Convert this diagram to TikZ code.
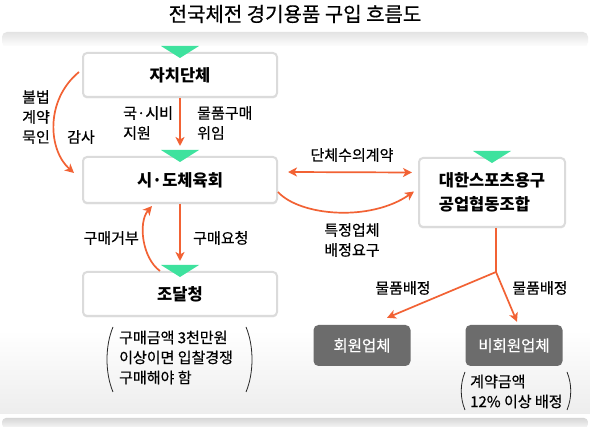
\documentclass[tikz,border=0pt]{standalone}
\usepackage{fontspec}
\setmainfont{Noto Sans CJK KR}
\newfontfamily\medf{Noto Sans CJK KR}[FakeBold=0.5]
\usetikzlibrary{arrows.meta,shadows,calc}
\definecolor{orng}{RGB}{242,98,52}
\definecolor{mint}{RGB}{62,226,158}
\definecolor{dgray}{RGB}{108,108,108}
\newcommand{\gtri}[1]{\fill[mint] ($(#1.north)+(-19,-6)$) -- ($(#1.north)+(19,-6)$) -- ($(#1.north)+(0,6)$) -- cycle;}
\begin{document}
\begin{tikzpicture}[x=1pt,y=-1pt,
  conn/.style={draw=orng, line width=1.7pt},
  arr/.style={conn, -{Stealth[length=9pt,width=9pt,inset=2.5pt]}},
  darr/.style={conn, {Stealth[length=9pt,width=9pt,inset=2.5pt]}-{Stealth[length=9pt,width=9pt,inset=2.5pt]}},
  wbox/.style={draw=gray!28, line width=2pt, fill=white, rounded corners=4pt,
    minimum width=194pt, minimum height=44pt, inner sep=0pt,
    font=\fontsize{16.5}{24}\selectfont\bfseries,
    drop shadow={opacity=0.18, shadow xshift=0pt, shadow yshift=-1.5pt}},
  dbox/.style={fill=dgray, rounded corners=5pt, minimum width=97pt, minimum height=41pt,
    inner sep=0pt, text=white, font=\medf\fontsize{15.5}{18}\selectfont},
  lbl/.style={font=\medf\fontsize{15}{20}\selectfont, inner sep=0pt, align=left},
  paren/.style={draw=black!85, line width=0.8pt},
]
\useasboundingbox (0,0) rectangle (590,427);
% background panel
\fill[white] (0,0) rectangle (590,427);
\shade[top color=gray!22, bottom color=white, rounded corners=5pt] (2,32) rectangle (588,47);
\fill[white] (0,46) rectangle (590,330);
\shade[top color=white, bottom color=gray!14] (0,330) rectangle (590,414);
\shade[top color=gray!32, bottom color=gray!6, rounded corners=4pt] (2,418) rectangle (588,428);

% title
\node (title) at (295,14) {\medf\fontsize{20}{22}\selectfont 전국체전 경기용품 구입 흐름도};

% boxes
\node[wbox] (jachi) at (180,75) {자치단체};
\node[wbox, minimum height=46pt] (sido) at (180,180) {시·도체육회};
\node[wbox] (jodal) at (180,294) {조달청};
\node[wbox, minimum width=146pt, minimum height=69pt, align=left] (union) at (492,192.5) {대한스포츠용구\\공업협동조합};
\node[dbox] (member) at (362,345.5) {회원업체};
\node[dbox] (nonmember) at (514,345.5) {비회원업체};

\gtri{jachi}
\gtri{sido}
\gtri{jodal}
\gtri{union}

% connectors
\draw[arr] (jachi.south) -- ($(sido.north)+(0,-10)$);
\draw[arr] ($(jachi.west)+(-3,-3)$) .. controls (45,100) and (48,150) .. ($(sido.west)+(-8,-7)$);
\draw[darr] ($(sido.east)+(10,-8)$) -- ($(union.west)+(-6,-20)$);
\draw[arr] ($(sido.east)+(0,12)$) .. controls (300,216) and (370,222) .. ($(union.west)+(-4,-1)$);
\draw[arr] (sido.south) -- ($(jodal.north)+(0,-10)$);
\draw[arr] ($(jodal.north)+(-20,0)$) .. controls (142,258) and (138,222) .. ($(sido.south)+(-28,2)$);
\coordinate (split) at (496,272);
\draw[conn] (union.south -| split) -- (split);
\draw[arr] (split) -- ($(member.north)+(25,-7)$);
\draw[arr] (split) -- ($(nonmember.north)+(3,-3)$);

% labels
\node[lbl, anchor=west] (l1) at (123,123) {국·시비\\지원};
\node[lbl, anchor=west] (l2) at (197,123) {물품구매\\위임};
\node[lbl, anchor=west] (l3) at (22,117) {불법\\계약\\묵인};
\node[lbl, anchor=west] (l4) at (67,137) {감사};
\node[lbl] (l5) at (352,155) {단체수의계약};
\node[lbl, align=center] (l6) at (352,240) {특정업체\\배정요구};
\node[lbl, anchor=east] (l7) at (139,238) {구매거부};
\node[lbl, anchor=west] (l8) at (193,238) {구매요청};
\node[lbl] (l9) at (403,288) {물품배정};
\node[lbl] (l10) at (540,288) {물품배정};
\node[lbl, anchor=west] (n1) at (119,357.5) {구매금액 3천만원\\이상이면 입찰경쟁\\구매해야 함};
\node[lbl, anchor=west] (n2) at (470,391.5) {계약금액\\12\% 이상 배정};

% parentheses
\draw[paren] (113,327) .. controls (105,346) and (105,373) .. (113,392);
\draw[paren] (246,327) .. controls (254,346) and (254,373) .. (246,392);
\draw[paren] (465,372) .. controls (460,384) and (460,398) .. (465,410);
\draw[paren] (567,372) .. controls (572,384) and (572,398) .. (567,410);
\end{tikzpicture}
\end{document}
